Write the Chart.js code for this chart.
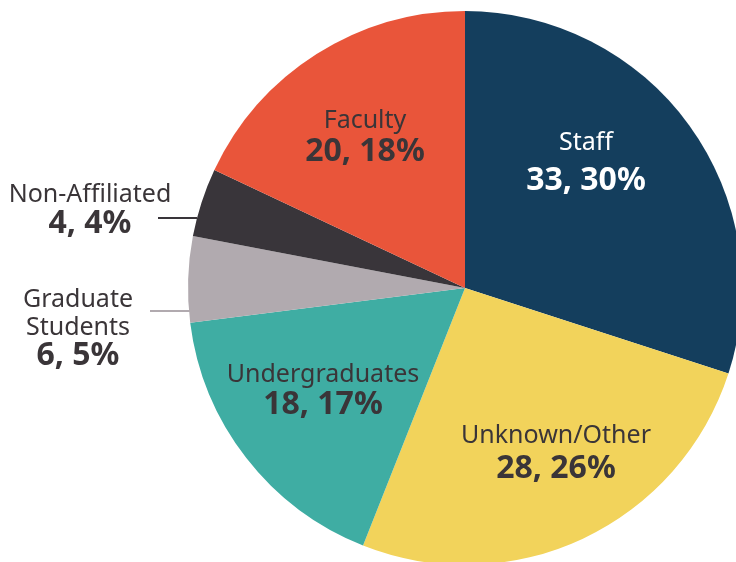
<!DOCTYPE html>
<html>
<head>
<meta charset="utf-8">
<script src="https://cdn.jsdelivr.net/npm/chart.js@4.4.1/dist/chart.umd.min.js"></script>
<style>
  html, body { margin: 0; padding: 0; background: #fff; overflow: hidden; }
  #wrap { position: absolute; left: 0; top: 0; width: 760px; height: 600px; }
</style>
</head>
<body>
<div id="wrap"><canvas id="grafico"></canvas></div>
<script>
"use strict";
// Dados
const categorias = ["Staff", "Unknown/Other", "Undergraduates", "Graduate Students", "Non-Affiliated", "Faculty"];
const valores = [33, 28, 18, 6, 4, 20];
const porcentagens = [30, 26, 17, 5, 4, 18];
const cores = ["#143e5d", "#f2d35b", "#3fada3", "#b1aaaf", "#39353a", "#e9553a"];

// Rotulos: linhas do nome, posicao relativa ao centro da pizza
const rotulos = [
  { nome: ["Staff"], dx: 121, dy: [-138, -98], cor: "#ffffff" },
  { nome: ["Unknown/Other"], dx: 91, dy: [155, 190], cor: "#3a3538" },
  { nome: ["Undergraduates"], dx: -142, dy: [94, 126], cor: "#3a3538" },
  { nome: ["Graduate", "Students"], dx: -387, dy: [19, 47, 77], cor: "#3a3538",
    linha: { x1: -315, x2: -275, y: 23, cor: "#b1aaaf" } },
  { nome: ["Non-Affiliated"], dx: -375, dy: [-86, -55], cor: "#3a3538",
    linha: { x1: -307, x2: -268, y: -70, cor: "#39353a" } },
  { nome: ["Faculty"], dx: -100, dy: [-160, -127], cor: "#3a3538" },
];

const fonte = "'Noto Sans', 'Open Sans', sans-serif";

const pluginRotulos = {
  id: "rotulos",
  afterDatasetsDraw(chart) {
    const ctx = chart.ctx;
    const meta = chart.getDatasetMeta(0);
    ctx.save();
    ctx.textAlign = "center";
    ctx.textBaseline = "alphabetic";
    meta.data.forEach((arc, i) => {
      const r = rotulos[i];
      const cx = arc.x, cy = arc.y;
      if (r.linha) {
        ctx.strokeStyle = r.linha.cor;
        ctx.lineWidth = 2;
        ctx.beginPath();
        ctx.moveTo(cx + r.linha.x1, cy + r.linha.y);
        ctx.lineTo(cx + r.linha.x2, cy + r.linha.y);
        ctx.stroke();
      }
      ctx.fillStyle = r.cor;
      ctx.font = `400 25px ${fonte}`;
      r.nome.forEach((txt, k) => {
        ctx.fillText(txt, cx + r.dx, cy + r.dy[k]);
      });
      ctx.font = `700 32px ${fonte}`;
      ctx.fillText(`${valores[i]}, ${porcentagens[i]}%`, cx + r.dx, cy + r.dy[r.nome.length]);
    });
    ctx.restore();
  },
};

// fatias desenhadas pela porcentagem
new Chart(document.getElementById("grafico"), {
  type: "pie",
  data: {
    labels: categorias,
    datasets: [{
      data: porcentagens,
      backgroundColor: cores,
      borderWidth: 0,
    }],
  },
  options: {
    responsive: true,
    maintainAspectRatio: false,
    animation: false,
    layout: { padding: { left: 188, right: 18, top: 11, bottom: 35 } },
    plugins: {
      legend: { display: false },
      tooltip: { enabled: false },
    },
  },
  plugins: [pluginRotulos],
});
</script>
</body>
</html>
